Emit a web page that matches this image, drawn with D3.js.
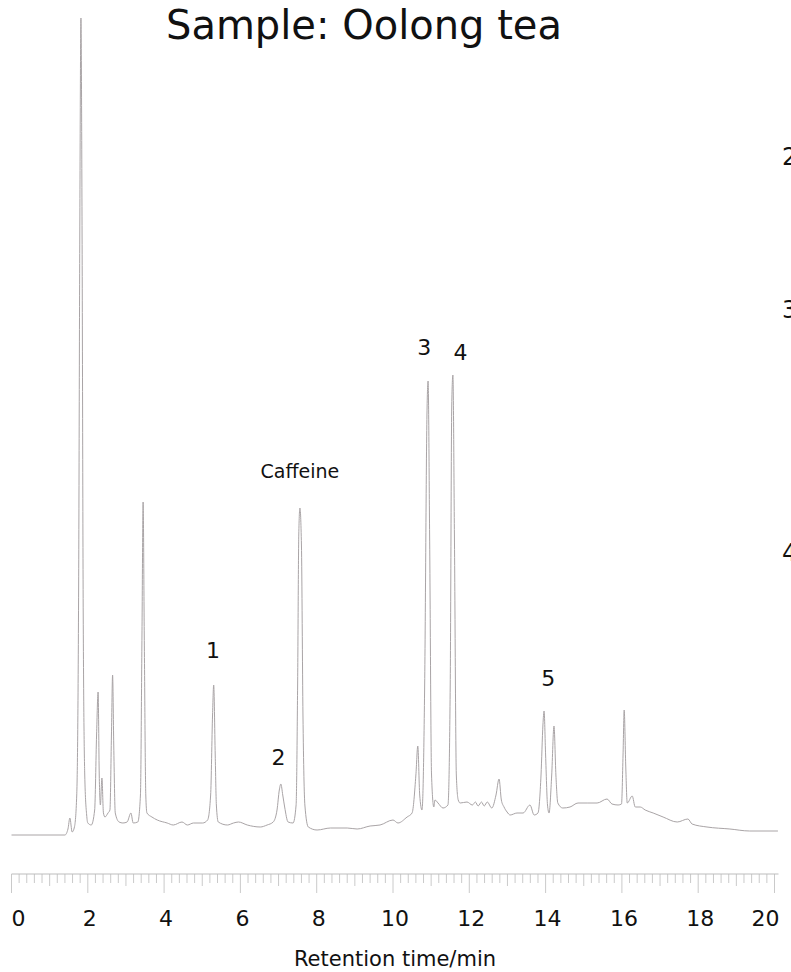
<!DOCTYPE html>
<html>
<head>
<meta charset="utf-8">
<script src="https://cdn.jsdelivr.net/npm/d3@7"></script>
<style>
  html, body { margin: 0; padding: 0; background: #fff; }
  svg { display: block; }
  text { font-family: "DejaVu Sans", sans-serif; fill: #111; }
</style>
</head>
<body>
<div id="chart"></div>
<script>
// chromatogram trace: [retention time (min), signal]
const trace = [
  [0, 0], [1.40, 0], [1.48, 6], [1.53, 17], [1.59, 3], [1.65, 8], [1.71, 40],
  [1.76, 250], [1.79, 600], [1.82, 817], [1.85, 600], [1.88, 220], [1.92, 60],
  [1.97, 20], [2.00, 12], [2.09, 10], [2.18, 25], [2.23, 100], [2.27, 143],
  [2.30, 60], [2.33, 30], [2.37, 57], [2.41, 22], [2.45, 18], [2.53, 22],
  [2.58, 25], [2.62, 100], [2.65, 160], [2.68, 90], [2.72, 22], [2.82, 13],
  [2.92, 12], [3.03, 13], [3.13, 22], [3.19, 12], [3.31, 13], [3.38, 40],
  [3.42, 200], [3.45, 333], [3.48, 200], [3.52, 40], [3.55, 22], [3.68, 18],
  [3.82, 15], [4.08, 12], [4.24, 10], [4.47, 13], [4.61, 10], [4.77, 12],
  [5.01, 12], [5.14, 15], [5.22, 40], [5.27, 120], [5.30, 150], [5.34, 80],
  [5.37, 30], [5.42, 13], [5.66, 10], [5.82, 12], [5.95, 13], [6.18, 10],
  [6.52, 8], [6.70, 10], [6.86, 13], [6.96, 25], [7.02, 45], [7.06, 51],
  [7.11, 40], [7.16, 28], [7.25, 13], [7.38, 12], [7.46, 30], [7.50, 150],
  [7.53, 300], [7.56, 327], [7.60, 290], [7.64, 120], [7.69, 30], [7.78, 8],
  [8.01, 5], [8.36, 7], [8.80, 7], [9.06, 6], [9.40, 9], [9.66, 10],
  [10.00, 15], [10.13, 12], [10.37, 18], [10.50, 22], [10.60, 60], [10.65, 89],
  [10.70, 40], [10.76, 25], [10.83, 150], [10.89, 420], [10.92, 454],
  [10.96, 300], [11.01, 60], [11.07, 28], [11.10, 35], [11.18, 32],
  [11.31, 27], [11.44, 30], [11.50, 150], [11.54, 430], [11.57, 460],
  [11.61, 300], [11.66, 60], [11.71, 35], [11.76, 32], [11.94, 33],
  [12.08, 30], [12.16, 33], [12.23, 29], [12.32, 33], [12.39, 29],
  [12.47, 33], [12.59, 27], [12.70, 40], [12.78, 56], [12.84, 35],
  [12.91, 28], [12.99, 23], [13.07, 20], [13.25, 22], [13.41, 22],
  [13.59, 30], [13.70, 20], [13.80, 22], [13.88, 60], [13.93, 110],
  [13.96, 124], [14.00, 80], [14.05, 30], [14.09, 22], [14.16, 60],
  [14.22, 109], [14.27, 60], [14.32, 32], [14.45, 27], [14.64, 28],
  [14.85, 32], [15.09, 32], [15.35, 32], [15.61, 36], [15.74, 31],
  [15.90, 30], [15.99, 31], [16.03, 80], [16.06, 125], [16.10, 70],
  [16.14, 32], [16.27, 39], [16.35, 28], [16.48, 28], [16.61, 25],
  [16.82, 22], [17.08, 18], [17.45, 13], [17.73, 16], [17.84, 11],
  [18.23, 8], [18.83, 6], [19.35, 4], [20.09, 4]
];

// peak annotations: [label, retention time, signal of label centre]
const peakLabels = [
  ["1", 5.28, 185],
  ["2", 7.00, 78],
  ["Caffeine", 7.56, 364],
  ["3", 10.82, 488],
  ["4", 11.77, 483],
  ["5", 14.07, 157]
];

const majorTicks = [0, 2, 4, 6, 8, 10, 12, 14, 16, 18, 20];
const oddTicks = [1, 3, 5, 7, 9, 11, 13, 15, 17, 19];
const minorTicks = d3.range(0, 100).map(i => i / 5).filter(v => Math.abs(v - Math.round(v)) > 1e-6);

// labels of the neighbouring panel, cut off at the right edge as in the original
const edgeLabels = [["2", 678], ["3", 525], ["4", 282]];

const W = 791, H = 972;
const svg = d3.select("#chart").append("svg").attr("width", W).attr("height", H);

const x = d3.scaleLinear().domain([0, 20]).range([11.5, 774.5]);
const y = d3.scaleLinear().domain([0, 817]).range([835, 18]);

// title
svg.append("text")
  .attr("x", 364).attr("y", 39)
  .attr("text-anchor", "middle")
  .style("font-size", "40px")
  .text("Sample: Oolong tea");

// trace
const line = d3.line()
  .x(d => x(d[0]))
  .y(d => y(d[1]))
  .curve(d3.curveMonotoneX);

svg.append("path")
  .datum(trace)
  .attr("fill", "none")
  .attr("stroke", "#a9a4a6")
  .attr("stroke-width", 1)
  .attr("d", line);

// peak labels
svg.selectAll(".peak")
  .data(peakLabels)
  .enter().append("text")
  .attr("class", "peak")
  .attr("x", d => x(d[1]))
  .attr("y", d => y(d[2]))
  .attr("dy", "0.35em")
  .attr("text-anchor", "middle")
  .style("font-size", d => d[0].length > 1 ? "19px" : "22px")
  .text(d => d[0]);

// x axis
const axisY = 874;
const axis = svg.append("g");
axis.append("line")
  .attr("x1", x(0)).attr("x2", x(20) + 4)
  .attr("y1", axisY).attr("y2", axisY)
  .attr("stroke", "#bdbdbd");

function ticks(values, len) {
  axis.selectAll(null)
    .data(values)
    .enter().append("line")
    .attr("x1", d => x(d)).attr("x2", d => x(d))
    .attr("y1", axisY).attr("y2", axisY + len)
    .attr("stroke", "#bdbdbd")
    .attr("stroke-width", 0.8);
}
ticks(minorTicks, 9);
ticks(oddTicks, 12);
ticks(majorTicks, 19);

axis.selectAll(".tl")
  .data(majorTicks)
  .enter().append("text")
  .attr("class", "tl")
  .attr("x", d => d === 0 ? x(d) : d === 20 ? x(d) + 5 : x(d) + 2)
  .attr("y", 926)
  .attr("text-anchor", d => d === 0 ? "start" : d === 20 ? "end" : "middle")
  .style("font-size", "22px")
  .text(d => d);

svg.append("text")
  .attr("x", 395).attr("y", 966)
  .attr("text-anchor", "middle")
  .style("font-size", "21px")
  .text("Retention time/min");

svg.selectAll(".edge")
  .data(edgeLabels)
  .enter().append("text")
  .attr("class", "edge")
  .attr("x", 782)
  .attr("y", d => y(d[1]))
  .attr("dy", "0.35em")
  .style("font-size", "24px")
  .text(d => d[0]);
</script>
</body>
</html>
